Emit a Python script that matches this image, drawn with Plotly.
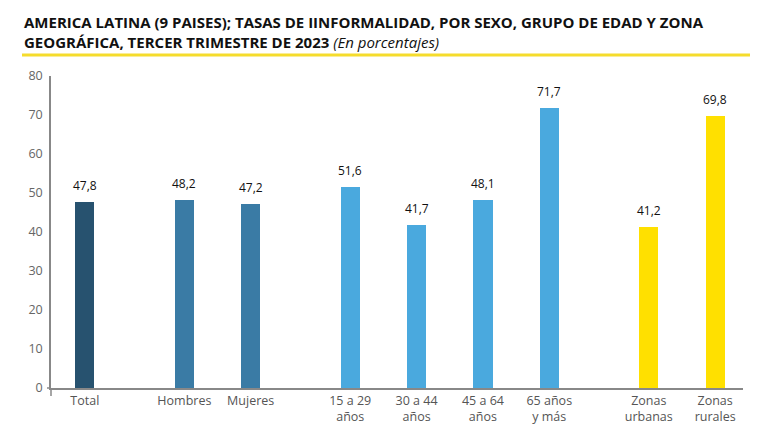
import plotly.graph_objects as go

# ---- data ----
groups = [
    ["Total"],
    ["Hombres", "Mujeres"],
    ["15 a 29<br>años", "30 a 44<br>años", "45 a 64<br>años", "65 años<br>y más"],
    ["Zonas<br>urbanas", "Zonas<br>rurales"],
]
values = [
    [47.8],
    [48.2, 47.2],
    [51.6, 41.7, 48.1, 71.7],
    [41.2, 69.8],
]
group_colors = ["#27526f", "#3a7ba5", "#4aa9de", "#ffe000"]
y_ticks = [0, 10, 20, 30, 40, 50, 60, 70, 80]

title_line1 = "AMERICA LATINA (9 PAISES); TASAS DE IINFORMALIDAD, POR SEXO, GRUPO DE EDAD Y ZONA"
title_line2 = "GEOGRÁFICA, TERCER TRIMESTRE DE 2023"
title_sub = "(En porcentajes)"

LABEL_FONT = "Open Sans, Lato, sans-serif"
TITLE_FONT = "Open Sans, Roboto, sans-serif"

# ---- build positions from group structure (extra half slot between groups) ----
GROUP_GAP = 0.5
fig = go.Figure()
pos = 0.0
tickvals, ticktext = [], []
annots = []
for gi, (cats, vals) in enumerate(zip(groups, values)):
    xs = []
    for c, v in zip(cats, vals):
        xs.append(pos)
        tickvals.append(pos)
        ticktext.append(c)
        annots.append(dict(
            x=pos, y=v, xref="x", yref="y", text=f"{v:.1f}".replace(".", ","),
            showarrow=False, yanchor="bottom", yshift=6,
            font=dict(family=LABEL_FONT, size=12, color="#111"),
        ))
        pos += 1
    pos += GROUP_GAP
    fig.add_trace(go.Bar(
        x=xs, y=vals, width=0.29,
        marker=dict(color=group_colors[gi], line=dict(width=0)),
        showlegend=False, hoverinfo="skip",
    ))

annots.append(dict(
    xref="paper", yref="paper", x=-0.042, y=1.1426, xanchor="left", yanchor="middle",
    text="<b>" + title_line1 + "</b><br><b>" + title_line2 + "</b> <i>" + title_sub + "</i>",
    showarrow=False, align="left",
    font=dict(family=TITLE_FONT, size=15, color="#111"),
))

axis_style = dict(color="#888", width=1.5)
fig.update_layout(
    width=770, height=443,
    margin=dict(l=43, r=35, t=68, b=63, autoexpand=False),
    paper_bgcolor="white", plot_bgcolor="white",
    bargap=0,
    font=dict(family=LABEL_FONT, color="#444"),
    annotations=annots,
    shapes=[
        dict(type="line", xref="paper", yref="paper",
             x0=-0.0419, x1=1.0101, y0=1.0673, y1=1.0673,
             line=dict(color="#f5dc2c", width=3)),
        # short axis-line overhangs at the origin
        dict(type="line", xref="paper", yref="paper",
             x0=-0.0058, x1=0, y0=0, y1=0, line=axis_style),
        dict(type="line", xref="paper", yref="paper",
             x0=0, x1=0, y0=-0.0256, y1=0, line=axis_style),
    ],
)
fig.update_xaxes(
    range=[-0.51, 9.92], tickvals=tickvals, ticktext=ticktext, automargin=False,
    showline=True, linecolor="#888", linewidth=1.5, showgrid=False,
    zeroline=False, ticks="", tickfont=dict(family=LABEL_FONT, size=12.5, color="#555"),
)
fig.update_yaxes(
    range=[0, 80], tickvals=y_ticks, showline=True, linecolor="#888", automargin=False,
    linewidth=1.5, showgrid=False, zeroline=False, ticks="", ticklen=0,
    ticklabelstandoff=4,
    tickfont=dict(family=LABEL_FONT, size=12.5, color="#666"),
)

fig.write_html("out.html")
